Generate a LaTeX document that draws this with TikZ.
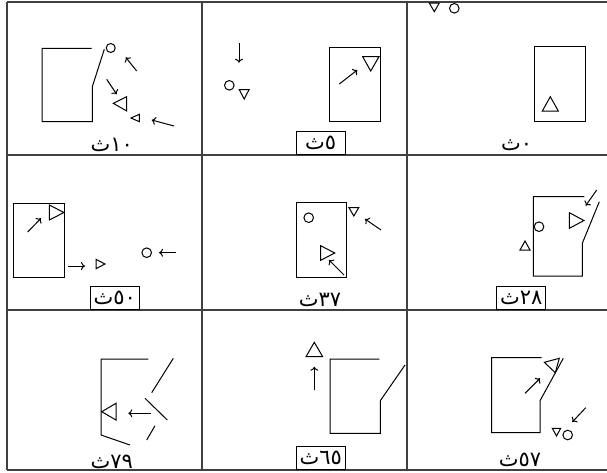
\documentclass[tikz,border=0pt]{standalone}
\usepackage{fontspec}
\newfontfamily\arabicfont[Script=Arabic]{DejaVu Sans}
\TeXXeTstate=1
\usetikzlibrary{arrows.meta}
\newcommand{\secs}[1]{\arabicfont\beginR\beginL#1\endL ث\endR}
\newcommand{\ball}[2]{\draw (#1,#2) circle (4.8);}

\begin{document}
\begin{tikzpicture}[x=1pt, y=-1pt, line width=1pt, >={To[length=4pt,width=8pt]},
  grid/.style={line width=1.3pt, black!75},
  lbl/.style={font=\fontsize{21}{23}\selectfont, inner sep=0pt},
  boxlbl/.style={lbl, draw, line width=1pt, minimum width=49pt, minimum height=23.5pt, anchor=south}]
\useasboundingbox (0,0) rectangle (607,472);
% grid
\draw[grid] (7,2) -- (607,2) (7,155) -- (607,155) (7,310) -- (607,310) (7,470) -- (607,470);
\draw[grid] (7,2) -- (7,470) (202,2) -- (202,470) (407,2) -- (407,470);
% 10 s
\draw (91.7,48.3) -- (42,48.3) -- (42,121.7) -- (92.3,121.7) -- (92.3,86.7) -- (104.3,49.3);
\draw (110.7,48) circle (4.5);
\draw[->] (136.7,71) -- (125.7,57.3);
\draw[->] (106.7,79.3) -- (116.7,94.3);
\draw (113.3,103.3) -- (126.7,96.7) -- (126.7,111) -- cycle;
\draw (131,118) -- (139.3,114.3) -- (139.3,121.7) -- cycle;
\draw[->] (174,126) -- (151.7,120);
\node[lbl] (t10) at (111.7,145) {\secs{١٠}};
\begin{scope}[shift={(200,0)}] % 5 s
\draw[->] (39,43.3) -- (39,62.7);
\ball{29.3}{85.3}
\draw (39.3,89.7) -- (49,89.7) -- (44.2,99) -- cycle;
\draw (129.3,47.3) rectangle (180.3,121.3);
\draw (162.7,56.7) -- (179,56.7) -- (170.7,71) -- cycle;
\draw[->] (139.3,84) -- (157.3,70);
\node[boxlbl] (t5) at (120.7,155) {\secs{٥}};
\end{scope}
\begin{scope}[shift={(400,0)}] % 0 s
\draw (29.3,3) -- (39.3,3) -- (34.3,11.7) -- cycle;
\ball{54.3}{8.3}
\draw (134.3,46.7) rectangle (185.3,121);
\draw (142.3,111) -- (158.3,111) -- (150.3,96.7) -- cycle;
\node[lbl] (t0) at (116.7,145) {\secs{٠}};
\end{scope}
\begin{scope}[shift={(0,150)}] % 50 s
\draw (13.3,53.3) rectangle (64.3,127.7);
\draw (49.3,55) -- (49.3,70) -- (64,62.5) -- cycle;
\draw[->] (27.7,82) -- (41,68.3);
\draw[->] (67.7,116) -- (85,116);
\draw (96,109.3) -- (96,118.7) -- (105,114) -- cycle;
\ball{146.7}{102.7}
\draw[->] (175.7,102.7) -- (159,102.7);
\node[boxlbl] (t50) at (114.7,160) {\secs{٥٠}};
\end{scope}
\begin{scope}[shift={(200,150)}] % 37 s
\draw (96,52.3) rectangle (146.7,127);
\ball{108.7}{67.7}
\draw (149,57.7) -- (158.7,57.7) -- (153.8,66) -- cycle;
\draw[->] (181,80) -- (165,69);
\draw (120.7,95.7) -- (120.7,110.3) -- (134.7,103) -- cycle;
\draw[->] (144,125) -- (129,110);
\node[lbl] (t37) at (120,150) {\secs{٣٧}};
\end{scope}
\begin{scope}[shift={(400,150)}] % 28 s
\draw (184.3,46.7) -- (133.3,46.7) -- (133.3,126) -- (182.3,126) -- (182.3,93.3) -- (199.3,51.7);
\draw[->] (196.7,40) -- (185.7,55.7);
\ball{139}{76.7}
\draw (169.3,62.7) -- (169.3,78.3) -- (184,70.5) -- cycle;
\draw (120,100) -- (130,100) -- (125,91) -- cycle;
\node[boxlbl] (t28) at (121.2,160) {\secs{٢٨}};
\end{scope}
\begin{scope}[shift={(0,310)}] % 79 s
\draw (148.3,49) -- (101,49) -- (101,125) -- (130,135);
\draw (116,93.3) -- (116,110) -- (101.7,101.7) -- cycle;
\draw[->] (150.7,103.3) -- (128.3,103.3);
\draw (151.7,82.7) -- (173.3,48.3);
\draw (145,88.3) -- (167.3,110);
\draw (146.7,130) -- (155,115.7);
\node[lbl] (t79) at (111.7,151.7) {\secs{٧٩}};
\end{scope}
\begin{scope}[shift={(200,310)}] % 65 s
\draw (106,46.7) -- (122.7,46.7) -- (114.3,32.3) -- cycle;
\draw[->] (114.3,80) -- (114.3,56.7);
\draw (179.3,49) -- (130,49) -- (130,123.3) -- (180.3,123.3) -- (180.3,90.7) -- (205,55);
\node[boxlbl] (t65) at (120.7,160) {\secs{٦٥}};
\end{scope}
\begin{scope}[shift={(400,310)}] % 57 s
\draw (141.7,47.7) -- (91.7,47.7) -- (91.7,122.7) -- (140,122.7) -- (140,90.7) -- (163.3,48.3);
\draw (144.3,52.3) -- (159.3,48.3) -- (155.3,62.7) -- cycle;
\draw[->] (125,83.3) -- (140,68.3);
\draw[->] (185.7,97.7) -- (172.3,112);
\draw (152.3,118.3) -- (160.7,118.3) -- (156.5,126) -- cycle;
\ball{167.7}{125}
\node[lbl] (t57) at (120,150) {\secs{٥٧}};
\end{scope}
\end{tikzpicture}
\end{document}
